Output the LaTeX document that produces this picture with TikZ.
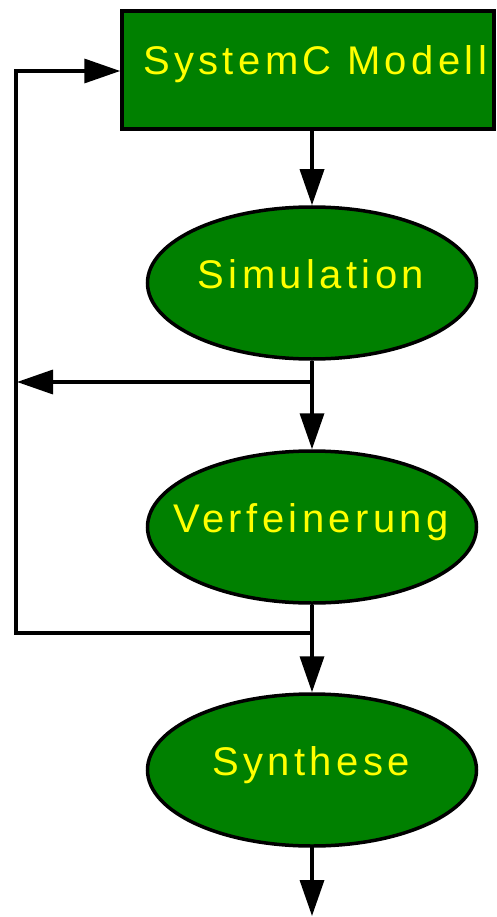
\documentclass[tikz,border=0pt]{standalone}
\usepackage{fontspec}
\usetikzlibrary{shapes.geometric,arrows.meta}
\newfontfamily\lblfont{Liberation Sans}[LetterSpace=11]
\definecolor{boxgreen}{RGB}{0,128,0}
\definecolor{txtyellow}{RGB}{255,255,0}
\newcommand{\ctext}[1]{\makebox[0pt]{\hspace{-2pt}#1}}
\tikzset{
  lbl/.style={text=txtyellow,font=\lblfont\fontsize{40}{48}\selectfont,
    text height=10pt,text depth=0pt,inner sep=0pt,fill=boxgreen,draw=black,line width=3.5pt},
  modbox/.style={lbl,rectangle,minimum width=372pt,minimum height=118pt},
  stagebox/.style={lbl,ellipse,minimum width=329pt,minimum height=152pt},
  conn/.style={line width=3.5pt,-{Triangle[length=36pt,width=24pt]}}
}
\begin{document}
\begin{tikzpicture}[x=1pt,y=-1pt]
\useasboundingbox (0,0) rectangle (496,917);
\node[modbox] (mod) at (308,70) {\makebox[0pt]{\hspace{14pt}SystemC Modell}};
\node[stagebox] (sim) at (312,283) {\ctext{Simulation}};
\node[stagebox] (ver) at (312,527) {\ctext{Verfeinerung}};
\node[stagebox] (syn) at (312,770) {\ctext{Synthese}};
\coordinate (j1) at (312,382);
\coordinate (l1) at (17,382);
\coordinate (j2) at (312,633);
\coordinate (c1) at (16,633);
\coordinate (c2) at (16,71);
\coordinate (fin) at (312,916);
\draw[conn] (mod.south -| sim.north) -- (sim.north);
\draw[conn] (sim.south) -- (ver.north);
\draw[conn] (j1) -- (l1);
\draw[conn] (ver.south) -- (syn.north);
\draw[conn] (j2) -- (c1) -- (c2) -- (c2 -| mod.west);
\draw[conn] (syn.south) -- (fin);
\end{tikzpicture}
\end{document}
